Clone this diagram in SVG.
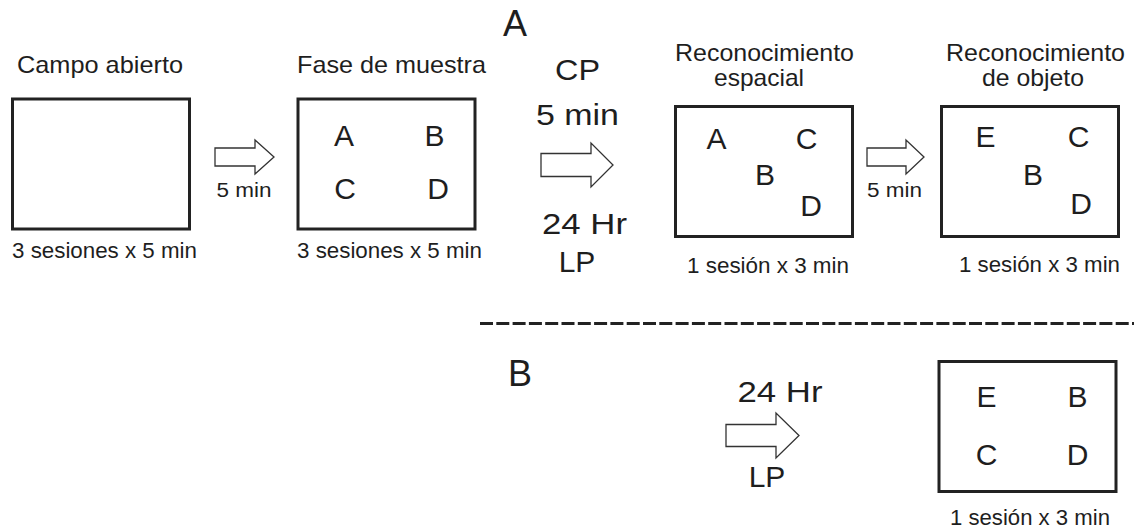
<svg xmlns="http://www.w3.org/2000/svg" width="1134" height="531" viewBox="0 0 1134 531">
<style>
text{font-family:"Liberation Sans",Arial,sans-serif;fill:#1e1e1e}
.box{fill:#fff;stroke:#222;stroke-width:3}
.arr{fill:#fff;stroke:#333;stroke-width:1.3;stroke-linejoin:miter}
.title{font-size:24px}
.cap{font-size:22px}
.obj{font-size:30px;text-anchor:middle}
.lbl{font-size:30px;text-anchor:middle}
.small{font-size:20px}
.sec{font-size:36px;text-anchor:middle}
</style>
<rect width="1134" height="531" fill="#fff"/>

<g id="label-A"><text class="sec" x="515" y="36">A</text></g>
<g id="label-B"><text class="sec" x="520" y="386">B</text></g>

<line id="separator" x1="480" y1="323.5" x2="1134" y2="323.5" stroke="#222" stroke-width="3" stroke-dasharray="13 3.3"/>

<g id="campo-abierto">
<text class="title" x="17" y="73" textLength="166" lengthAdjust="spacingAndGlyphs">Campo abierto</text>
<rect class="box" x="12.5" y="99" width="177" height="130"/>
<text class="cap" x="12" y="258" textLength="185" lengthAdjust="spacingAndGlyphs">3 sesiones x 5 min</text>
</g>

<g id="fase-muestra">
<text class="title" x="297" y="73" textLength="189" lengthAdjust="spacingAndGlyphs">Fase de muestra</text>
<rect class="box" x="298" y="99" width="177" height="130"/>
<text class="obj" x="344" y="146" font-size="31">A</text>
<text class="obj" x="434.5" y="146" font-size="31">B</text>
<text class="obj" x="345" y="199" font-size="31">C</text>
<text class="obj" x="438" y="199" font-size="31">D</text>
<text class="cap" x="297" y="258" textLength="185" lengthAdjust="spacingAndGlyphs">3 sesiones x 5 min</text>
</g>

<g id="reconocimiento-espacial">
<text class="title" x="675" y="60.5" font-size="22" textLength="179" lengthAdjust="spacingAndGlyphs">Reconocimiento</text>
<text class="title" x="759" y="86" font-size="22" text-anchor="middle" textLength="90" lengthAdjust="spacingAndGlyphs">espacial</text>
<rect class="box" x="675.5" y="106.5" width="177" height="130"/>
<text class="obj" x="716.5" y="149" font-size="29">A</text>
<text class="obj" x="806.5" y="149" font-size="29">C</text>
<text class="obj" x="765" y="185" font-size="29">B</text>
<text class="obj" x="811" y="216" font-size="29">D</text>
<text class="cap" x="687" y="273" textLength="162" lengthAdjust="spacingAndGlyphs">1 sesión x 3 min</text>
</g>

<g id="reconocimiento-objeto">
<text class="title" x="946" y="60.5" font-size="22" textLength="179" lengthAdjust="spacingAndGlyphs">Reconocimiento</text>
<text class="title" x="1033" y="86" font-size="22" text-anchor="middle" textLength="102" lengthAdjust="spacingAndGlyphs">de objeto</text>
<rect class="box" x="941.5" y="106.5" width="177" height="130"/>
<text class="obj" x="985.5" y="147" font-size="29">E</text>
<text class="obj" x="1078.5" y="147" font-size="29">C</text>
<text class="obj" x="1033" y="185" font-size="29">B</text>
<text class="obj" x="1081" y="214" font-size="29">D</text>
<text class="cap" x="959" y="272" textLength="161" lengthAdjust="spacingAndGlyphs">1 sesión x 3 min</text>
</g>

<g id="reconocimiento-lp">
<rect class="box" x="939" y="361.5" width="177" height="130"/>
<text class="obj" x="986.5" y="407" font-size="28">E</text>
<text class="obj" x="1077.5" y="407" font-size="28">B</text>
<text class="obj" x="986.5" y="465" font-size="28">C</text>
<text class="obj" x="1077.5" y="465" font-size="28">D</text>
<text class="cap" x="950" y="525" textLength="160" lengthAdjust="spacingAndGlyphs">1 sesión x 3 min</text>
</g>

<g id="connectors">
<g id="arrow-1">
<polygon class="arr" points="215,148 255,148 255,140 274,157 255,174 255,166 215,166"/>
<text class="small" x="244" y="197" text-anchor="middle" textLength="55" lengthAdjust="spacingAndGlyphs">5 min</text>
</g>
<g id="arrow-2">
<text class="lbl" x="577.5" y="80" textLength="45" lengthAdjust="spacingAndGlyphs">CP</text>
<text class="lbl" x="577.5" y="125" textLength="83" lengthAdjust="spacingAndGlyphs">5 min</text>
<polygon class="arr" points="541,153.5 591,153.5 591,143 613,165 591,187 591,176.5 541,176.5"/>
<text class="lbl" x="584.5" y="234" textLength="85" lengthAdjust="spacingAndGlyphs">24 Hr</text>
<text class="lbl" x="577" y="272">LP</text>
</g>
<g id="arrow-3">
<polygon class="arr" points="867,148 906,148 906,140 924,157 906,174 906,166 867,166"/>
<text class="small" x="894.5" y="197" text-anchor="middle" textLength="55" lengthAdjust="spacingAndGlyphs">5 min</text>
</g>
<g id="arrow-4">
<text class="lbl" x="780" y="402" textLength="85" lengthAdjust="spacingAndGlyphs">24 Hr</text>
<polygon class="arr" points="726,424.5 776,424.5 776,413 799,435.5 776,458 776,446.5 726,446.5"/>
<text class="lbl" x="767" y="487">LP</text>
</g>
</g>
</svg>
